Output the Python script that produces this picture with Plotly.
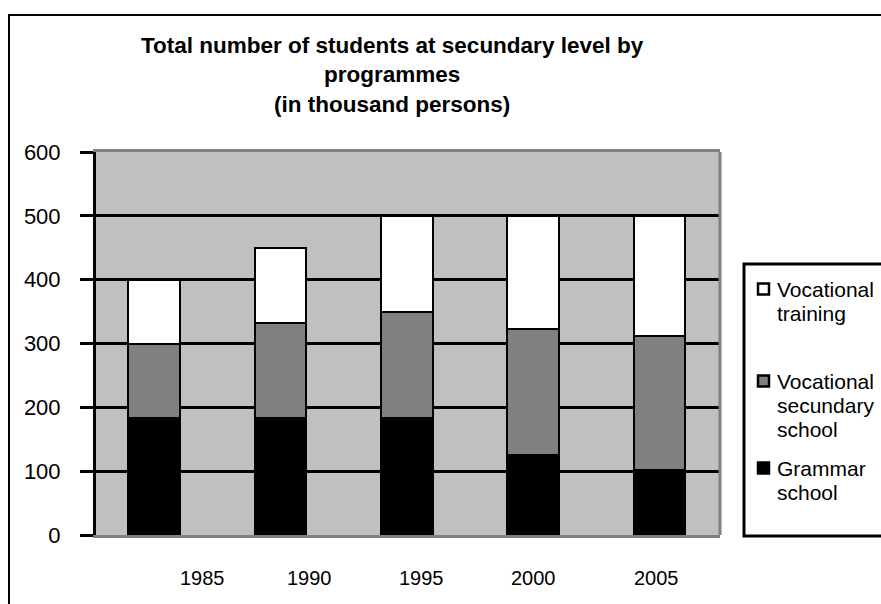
import plotly.graph_objects as go

# ---- data (thousand persons) ----
years = ["1985", "1990", "1995", "2000", "2005"]
grammar_school = [183, 183, 183, 125, 102]
vocational_secundary = [117, 149, 167, 197, 210]
vocational_training = [100, 118, 150, 178, 188]
y_ticks = [0, 100, 200, 300, 400, 500, 600]

series_names = ["Grammar school", "Vocational secundary school", "Vocational training"]
series_colors = ["#000000", "#808080", "#FFFFFF"]
legend_lines = [["Vocational", "training"],
                ["Vocational", "secundary", "school"],
                ["Grammar", "school"]]
legend_colors = ["#FFFFFF", "#808080", "#000000"]

title_text = ("<b>Total number of students at secundary level by<br>"
              "programmes<br>(in thousand persons)</b>")

# ---- page geometry (pixels) ----
W, H = 881, 604
L, R, T, B = 96, 720, 152, 535


def px(x):
    return (x - L) / (R - L)


def py(y):
    return (B - y) / (B - T)


FONT = "Arial, Liberation Sans, sans-serif"

fig = go.Figure()
for name, vals, col in zip(series_names,
                           [grammar_school, vocational_secundary, vocational_training],
                           series_colors):
    fig.add_trace(go.Bar(
        x=years, y=vals, name=name, width=0.41,
        marker=dict(color=col, line=dict(color="#000000", width=2)),
        showlegend=False,
    ))

shapes = []
# right edge of the plot frame
shapes.append(dict(type="line", xref="paper", yref="paper", x0=1, x1=1, y0=0, y1=1,
                   line=dict(color="#808080", width=3), layer="above"))
# outer chart border
shapes.append(dict(type="rect", xref="paper", yref="paper",
                   x0=px(9), x1=px(900), y0=py(15), y1=py(620),
                   line=dict(color="#000000", width=2), fillcolor="rgba(0,0,0,0)"))
# legend box
shapes.append(dict(type="rect", xref="paper", yref="paper",
                   x0=px(744), x1=px(895), y0=py(264), y1=py(536),
                   line=dict(color="#000000", width=3), fillcolor="#FFFFFF"))

annotations = [dict(text=title_text, xref="paper", yref="paper",
                    x=px(392), y=py(75), xanchor="center", yanchor="middle",
                    showarrow=False, font=dict(family=FONT, size=22.5, color="#000000"))]

# legend entries: marker square + one annotation per text line
legend_rows = [289, 381, 468]
line_step = 24
for lines, col, yrow in zip(legend_lines, legend_colors, legend_rows):
    shapes.append(dict(type="rect", xref="paper", yref="paper",
                       x0=px(758), x1=px(769), y0=py(yrow - 5.5), y1=py(yrow + 5.5),
                       line=dict(color="#000000", width=2.5), fillcolor=col))
    for i, txt in enumerate(lines):
        annotations.append(dict(text=txt, xref="paper", yref="paper",
                                x=px(775), y=py(yrow + i * line_step),
                                xanchor="left", yanchor="middle",
                                showarrow=False,
                                font=dict(family=FONT, size=21, color="#000000")))

# year labels under the axis
year_label_x = [202, 309, 421, 533, 656]
for yr, xp in zip(years, year_label_x):
    annotations.append(dict(text=yr, xref="paper", yref="paper", x=px(xp), y=py(578),
                            xanchor="center", yanchor="middle", showarrow=False,
                            font=dict(family=FONT, size=20, color="#000000")))

fig.update_layout(
    width=W, height=H,
    margin=dict(l=L, r=W - R, t=T, b=H - B, autoexpand=False),
    paper_bgcolor="#FFFFFF", plot_bgcolor="#C0C0C0",
    barmode="stack", bargap=0.59,
    showlegend=False,
    shapes=shapes, annotations=annotations,
    xaxis=dict(type="category", range=[-0.459, 4.478], showticklabels=False,
               showgrid=False, zeroline=False, ticks="",
               showline=True, linecolor="#808080", linewidth=3, mirror=True,
               layer="below traces"),
    yaxis=dict(range=[0, 600], tickvals=y_ticks, showgrid=True, gridcolor="#000000",
               gridwidth=3, zeroline=False, showline=True, linecolor="#000000",
               linewidth=3, ticks="outside", ticklen=13, tickwidth=3, tickcolor="#000000",
               ticklabelstandoff=15,
               tickfont=dict(family=FONT, size=22, color="#000000")),
)

fig.write_html("out.html")
